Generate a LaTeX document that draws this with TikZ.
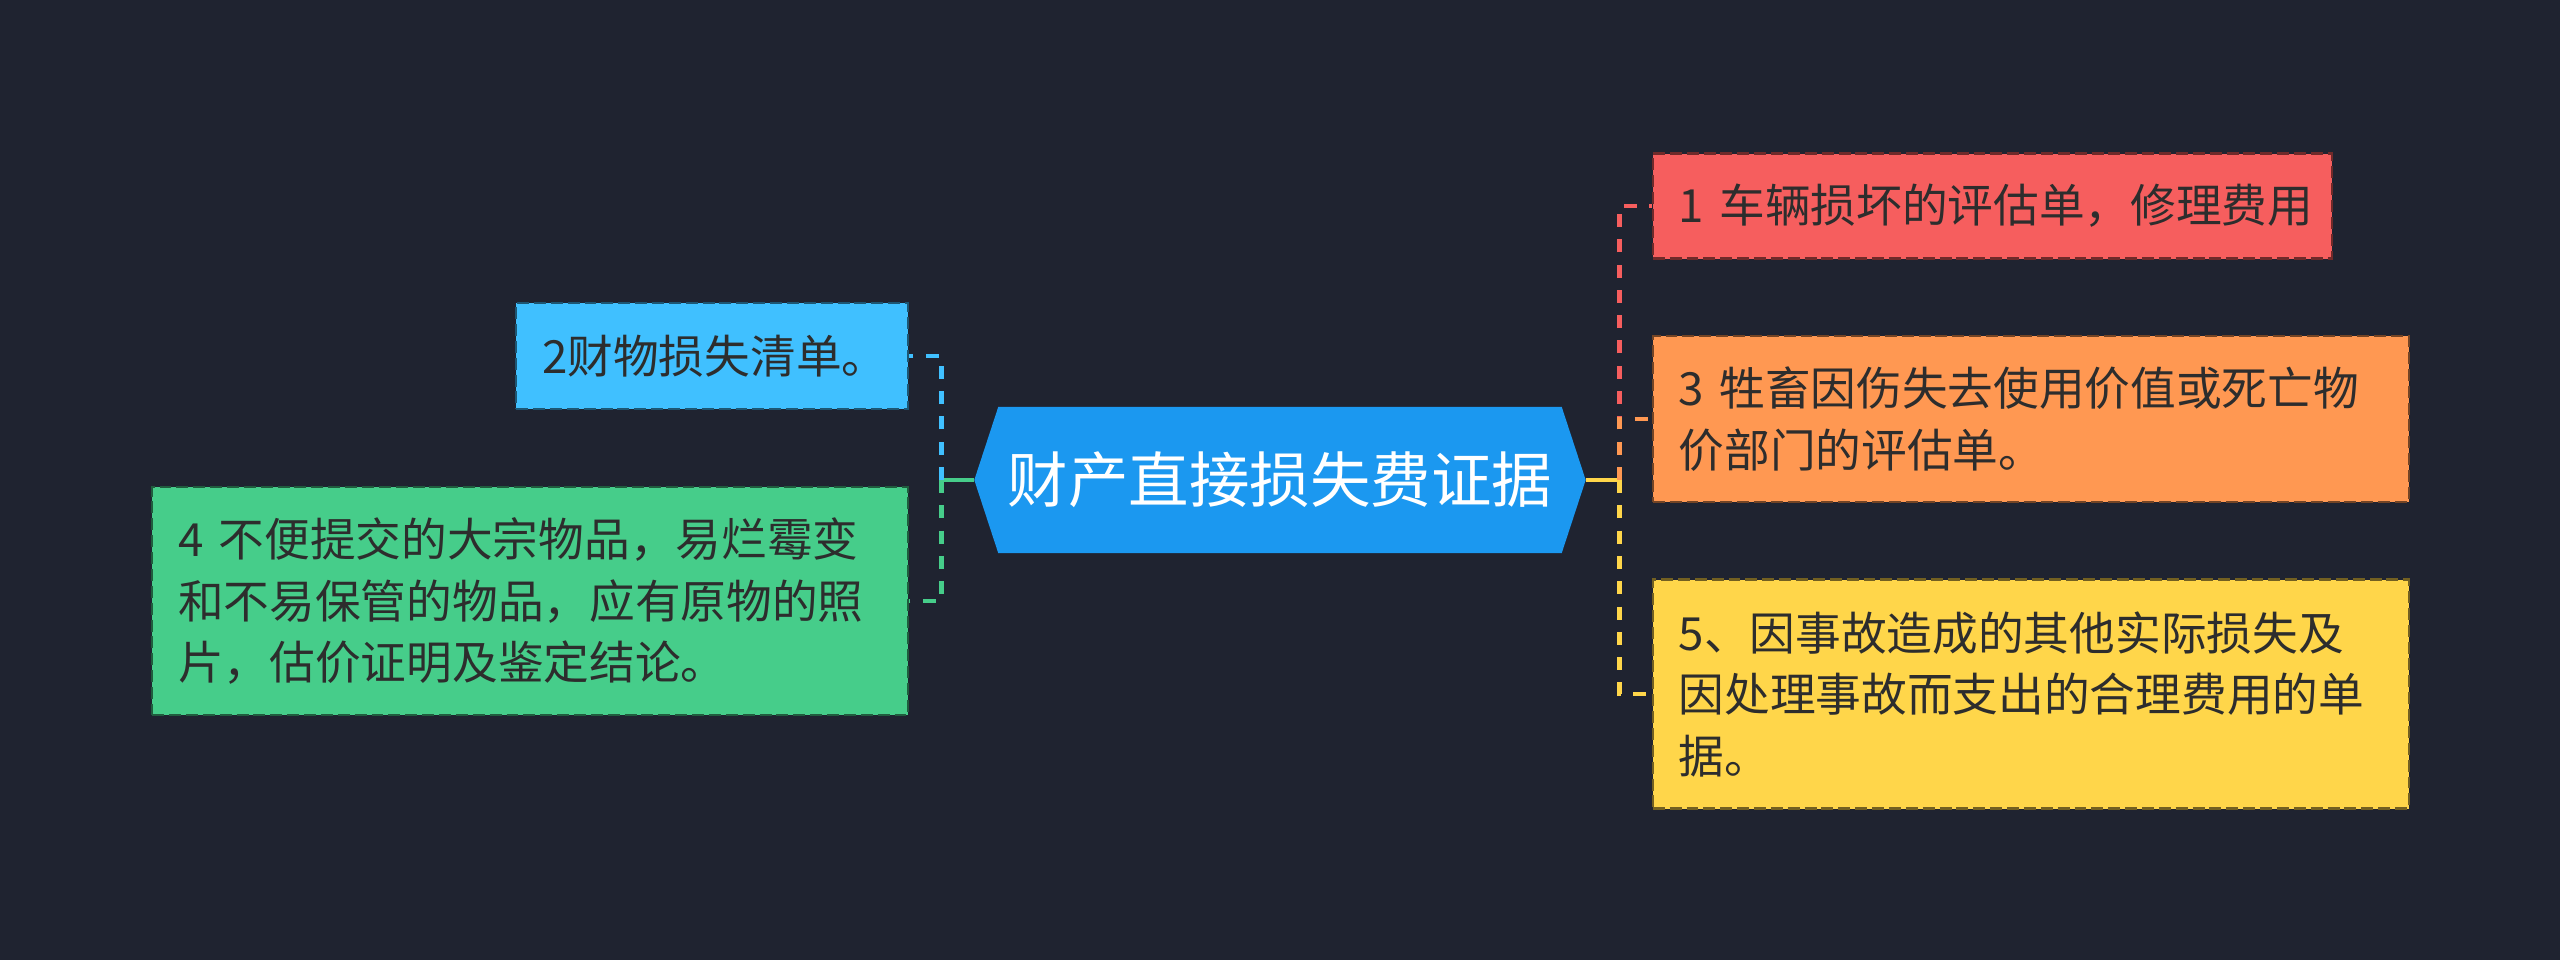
\documentclass[tikz,border=0pt]{standalone}
\usepackage{fontspec}
\setmainfont{Noto Sans CJK SC}
\usetikzlibrary{positioning,backgrounds,calc}
\definecolor{bgnavy}{RGB}{31,35,48}
\definecolor{rootblue}{RGB}{27,152,240}
\definecolor{boxred}{RGB}{246,94,94}
\definecolor{boxorange}{RGB}{255,152,82}
\definecolor{boxyellow}{RGB}{255,214,74}
\definecolor{boxcyan}{RGB}{64,192,255}
\definecolor{boxgreen}{RGB}{70,205,138}
\definecolor{txtdark}{RGB}{45,45,45}
\tikzset{
  rootnode/.style={rectangle,minimum width=6.1cm,minimum height=1.45cm,inner sep=0pt,text=white,font=\fontsize{17.2pt}{20pt}\selectfont},
  leafbox/.style={rectangle,draw=#1!45!black,fill=#1,line width=0.6pt,dash pattern=on 3.4pt off 1.4pt,text=txtdark,align=left,inner xsep=0.26cm,inner ysep=0pt,font=\fontsize{13pt}{17.5pt}\selectfont},
  link/.style={line width=1.3pt,color=#1},
  dlink/.style={line width=1.3pt,dash pattern=on 3.7pt off 3.5pt,color=#1}
}

\begin{document}
\begin{tikzpicture}
  \useasboundingbox (-12.8,-4.8) rectangle (12.8,4.8);

  \node[rootnode] (root) at (0,0) {财产直接损失费证据};

  \node[leafbox=boxred,text width=6.27cm,minimum height=1.05cm,right=0.66cm of root,yshift=2.74cm] (car) {1~车辆损坏的评估单，修理费用};
  \node[leafbox=boxorange,text width=7.04cm,minimum height=1.66cm,right=0.66cm of root,yshift=0.61cm] (stock) {3~牲畜因伤失去使用价值或死亡物\\价部门的评估单。};
  \node[leafbox=boxyellow,text width=7.04cm,minimum height=2.29cm,right=0.66cm of root,yshift=-2.14cm] (other) {5、因事故造成的其他实际损失及\\因处理事故而支出的合理费用的单\\据。};
  \node[leafbox=boxcyan,text width=3.40cm,minimum height=1.06cm,left=0.65cm of root,yshift=1.24cm] (goods) {2财物损失清单。};
  \node[leafbox=boxgreen,text width=7.04cm,minimum height=2.28cm,left=0.65cm of root,yshift=-1.21cm] (bulk) {4~不便提交的大宗物品，易烂霉变\\和不易保管的物品，应有原物的照\\片，估价证明及鉴定结论。};

  \coordinate (rj) at ([xshift=0.34cm]root.east);
  \coordinate (lj) at ([xshift=-0.33cm]root.west);

  \draw[link=boxyellow] (root.east)--(rj);
  \draw[dlink=boxred] (rj) |- (car.west);
  \draw[dlink=boxorange] (rj) |- (stock.west);
  \draw[dlink=boxyellow] (rj) |- (other.west);
  \draw[link=boxgreen] (root.west)--(lj);
  \draw[dlink=boxcyan] (lj) |- (goods.east);
  \draw[dlink=boxgreen] (lj) |- (bulk.east);

  \begin{pgfonlayer}{background}
    \fill[bgnavy] (-12.8,-4.8) rectangle (12.8,4.8);
    \fill[rootblue] (root.west) -- ([xshift=0.24cm]root.north west) -- ([xshift=-0.24cm]root.north east)
      -- (root.east) -- ([xshift=-0.24cm]root.south east) -- ([xshift=0.24cm]root.south west) -- cycle;
  \end{pgfonlayer}
\end{tikzpicture}
\end{document}
